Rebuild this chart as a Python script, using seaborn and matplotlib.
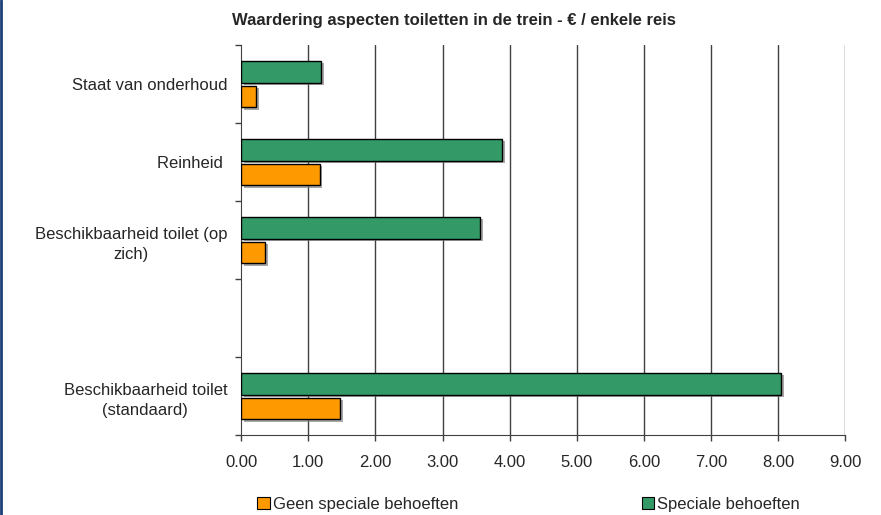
import matplotlib.pyplot as plt
import matplotlib.patheffects as pe
from matplotlib.patches import Patch
from matplotlib.lines import Line2D
import pandas as pd
import seaborn as sns

categories = ["Staat van onderhoud", "Reinheid ", "Beschikbaarheid toilet (op\nzich)", "",
              "Beschikbaarheid toilet\n(standaard)"]
speciale = [1.19, 3.89, 3.56, None, 8.04]
geen = [0.23, 1.17, 0.36, None, 1.47]
series_names = ["Geen speciale behoeften", "Speciale behoeften"]
xticks = [0, 1, 2, 3, 4, 5, 6, 7, 8, 9]

rows = []
for cat, s, g in zip(categories, speciale, geen):
    if s is not None:
        rows.append({"cat": cat, "serie": series_names[1], "waarde": s})
        rows.append({"cat": cat, "serie": series_names[0], "waarde": g})
data = pd.DataFrame(rows)

sns.set_style("white")
plt.rcParams["font.family"] = ["Liberation Sans", "DejaVu Sans"]

colors = {series_names[0]: "#FF9900", series_names[1]: "#339966"}

fig = plt.figure(figsize=(8.81, 5.15), dpi=100)
ax = fig.add_axes([0.2736, 0.1553, 0.9597 - 0.2736, 0.9126 - 0.1553])

sns.barplot(data=data, y="cat", x="waarde", hue="serie", order=categories,
            hue_order=[series_names[1], series_names[0]], palette=colors, saturation=1,
            orient="h", width=0.64, gap=0.12, edgecolor="black", linewidth=1,
            legend=False, ax=ax, zorder=3)

# kleine schaduw zoals in Excel
for bar in ax.patches:
    bar.set_path_effects([pe.SimplePatchShadow(offset=(2, -2), shadow_rgbFace="#808080", alpha=0.7),
                          pe.Normal()])

ax.set_xlim(0, 9)
ax.set_ylim(4.5, -0.5)
ax.set_xticks(xticks)
ax.set_xticklabels([f"{v:.2f}" for v in xticks], fontsize=12)
ax.set_xlabel("")
ax.set_ylabel("")
for v in xticks[1:]:
    ax.axvline(v, color="#404040", lw=1, zorder=1)

ax.set_yticks(range(len(categories)))
ax.set_yticklabels(categories, fontsize=12, multialignment="center", linespacing=1.45)
ax.set_yticks([i - 0.5 for i in range(len(categories) + 1)], minor=True)
ax.tick_params(axis="y", which="major", length=0, pad=10)
ax.tick_params(axis="y", which="minor", length=4.5, width=1, color="#404040", left=True)
ax.tick_params(axis="x", which="major", length=4.5, width=1, color="#404040", bottom=True, pad=10)

for side in ["top", "right"]:
    ax.spines[side].set_visible(False)
ax.spines["left"].set_color("#404040")
ax.spines["bottom"].set_color("#404040")

fig.text(0.515, 0.961, "Waardering aspecten toiletten in de trein - € / enkele reis",
         ha="center", va="center", fontsize=12, fontweight="bold")

handles = [Patch(facecolor=colors[n], edgecolor="black", linewidth=0.8) for n in series_names]
fig.legend(handles, series_names, loc="center", bbox_to_anchor=(0.6, 0.02), ncol=2,
           frameon=False, fontsize=12, handlelength=0.75, handleheight=0.75,
           handletextpad=0.2, columnspacing=11)

fig.add_artist(Line2D([0.0015, 0.0015], [0, 1], color="#1c3f78", lw=2, transform=fig.transFigure))

fig.savefig("out.png", dpi=100)
